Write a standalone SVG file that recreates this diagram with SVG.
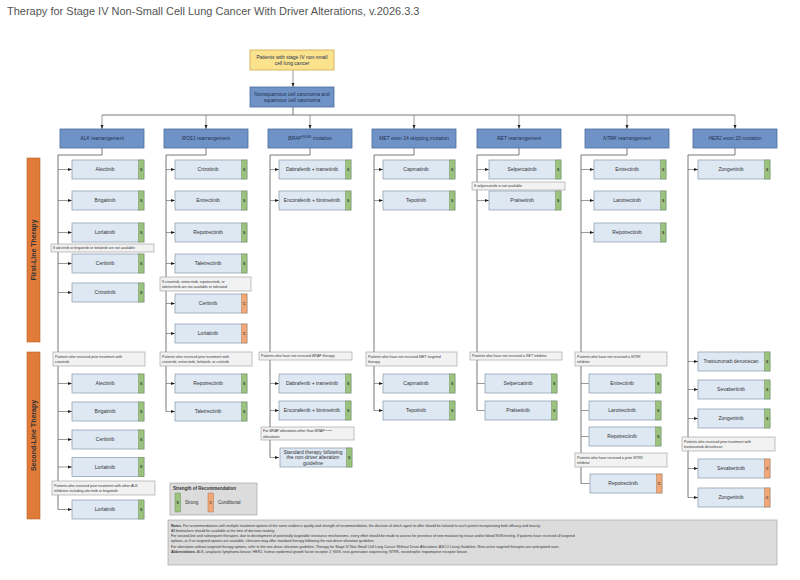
<svg xmlns="http://www.w3.org/2000/svg" width="800" height="580" viewBox="0 0 800 580">
<style>
text{font-family:"Liberation Sans",Arial,sans-serif;}
.t{font-size:11px;fill:#555}
.hd{fill:#6f93c6;stroke:#4d6d9c;stroke-width:0.8}
.hdt{font-size:5px;fill:#1f2f4f;text-anchor:middle}
.dr{fill:#dde8f3;stroke:#8797ab;stroke-width:0.7}
.s{fill:#9bc27f;stroke:#6f8f5a;stroke-width:0.5}
.c{fill:#f0a878;stroke:#b07850;stroke-width:0.5}
.dt{font-size:5px;fill:#333;text-anchor:middle}
.tg{font-size:3.5px;fill:#333;text-anchor:middle;font-weight:bold}
.nt{fill:#f2f2f2;stroke:#999;stroke-width:0.6}
.ntt{font-size:3.6px;fill:#333}
.ln{fill:none;stroke:#555;stroke-width:0.8}
.ar{fill:none;stroke:#555;stroke-width:0.6;marker-end:url(#a)}
.side{fill:#e07b39;stroke:#b8612a;stroke-width:0.6}
.sidet{font-size:7px;font-weight:bold;fill:#333;text-anchor:middle}
</style>
<defs><marker id="a" markerWidth="4" markerHeight="4" refX="4" refY="2" orient="auto" markerUnits="userSpaceOnUse"><path d="M0,0.5 L4,2 L0,3.5 z" fill="#222"/></marker>
<g id="dS"><rect class="dr" x="0" y="0" width="72" height="19"/><rect class="s" x="66.5" y="0" width="5.5" height="19"/><text class="tg" x="69.25" y="10.8">S</text></g>
<g id="dC"><rect class="dr" x="0" y="0" width="72" height="19"/><rect class="c" x="66.5" y="0" width="5.5" height="19"/><text class="tg" x="69.25" y="10.8">C</text></g>
</defs>
<rect width="800" height="580" fill="#fff"/>
<text class="t" x="7" y="15">Therapy for Stage IV Non-Small Cell Lung Cancer With Driver Alterations, v.2026.3.3</text>

<g id="connectors">
<path class="ar" d="M293,70 V87"/>
<path class="ln" d="M293,107 V115 M102,115 H735"/>
<path class="ar" d="M102,115 V129"/><path class="ar" d="M206,115 V129"/><path class="ar" d="M310,115 V129"/><path class="ar" d="M414,115 V129"/><path class="ar" d="M519,115 V129"/><path class="ar" d="M627,115 V129"/><path class="ar" d="M735,115 V129"/>
<path class="ln" d="M102,148 V155 H58 V509.5"/>
<path class="ln" d="M206,148 V155 H166 V411.5"/>
<path class="ln" d="M310,148 V155 H270 V457.5"/>
<path class="ln" d="M414,148 V155 H374 V410.5"/>
<path class="ln" d="M519,148 V155 H477 V410.5"/>
<path class="ln" d="M627,148 V155 H581 V483.5"/>
<path class="ln" d="M735,148 V155 H688 V497.5"/>
<g>
<path class="ar" d="M58,169.5 H72"/><path class="ar" d="M58,200.5 H72"/><path class="ar" d="M58,232.5 H72"/><path class="ar" d="M58,263.5 H72"/><path class="ar" d="M58,292.5 H72"/>
<path class="ar" d="M58,383.5 H72"/><path class="ar" d="M58,411.5 H72"/><path class="ar" d="M58,439.5 H72"/><path class="ar" d="M58,467 H72"/><path class="ar" d="M58,509.5 H72"/>
<path class="ar" d="M166,169.5 H175"/><path class="ar" d="M166,200.5 H175"/><path class="ar" d="M166,232.5 H175"/><path class="ar" d="M166,263.5 H175"/><path class="ar" d="M166,303.5 H175"/><path class="ar" d="M166,333.5 H175"/>
<path class="ar" d="M166,383.5 H175"/><path class="ar" d="M166,411.5 H175"/>
<path class="ar" d="M270,169.5 H279"/><path class="ar" d="M270,200.5 H279"/><path class="ar" d="M270,383.5 H279"/><path class="ar" d="M270,410.5 H279"/><path class="ar" d="M270,457.5 H279"/>
<path class="ar" d="M374,169.5 H383"/><path class="ar" d="M374,200.5 H383"/><path class="ar" d="M374,383.5 H383"/><path class="ar" d="M374,410.5 H383"/>
<path class="ar" d="M477,169.5 H489"/><path class="ar" d="M477,200.5 H489"/><path class="ar" d="M477,383.5 H489"/><path class="ar" d="M477,410.5 H489"/>
<path class="ar" d="M581,169.5 H594"/><path class="ar" d="M581,200.5 H594"/><path class="ar" d="M581,232.5 H594"/><path class="ar" d="M581,383.5 H594"/><path class="ar" d="M581,410.5 H594"/><path class="ar" d="M581,436.5 H594"/><path class="ar" d="M581,483.5 H594"/>
<path class="ar" d="M688,169.5 H698"/><path class="ar" d="M688,361.5 H698"/><path class="ar" d="M688,389.5 H698"/><path class="ar" d="M688,418.5 H698"/><path class="ar" d="M688,468.5 H698"/><path class="ar" d="M688,497.5 H698"/>
</g>
</g>

<g id="n-start"><rect x="250" y="50" width="84" height="20" fill="#fbe38d" stroke="#c9a84a" stroke-width="0.8"/><text class="hdt" x="292" y="58.5">Patients with stage IV non-small</text><text class="hdt" x="292" y="65">cell lung cancer</text></g>
<g id="n-histo"><rect class="hd" x="250" y="87" width="84" height="20"/><text class="hdt" x="292" y="95.5">Nonsquamous cell carcinoma and</text><text class="hdt" x="292" y="102">squamous cell carcinoma</text></g>

<g id="headers">
<g id="h-alk"><rect class="hd" x="60" y="129" width="84" height="19"/><text class="hdt" x="102" y="140.3"><tspan font-style="italic">ALK</tspan> rearrangement</text></g>
<g id="h-ros1"><rect class="hd" x="164" y="129" width="84" height="19"/><text class="hdt" x="206" y="140.3"><tspan font-style="italic">ROS1</tspan> rearrangement</text></g>
<g id="h-braf"><rect class="hd" x="268" y="129" width="84" height="19"/><text class="hdt" x="310" y="140.3"><tspan font-style="italic">BRAF</tspan><tspan font-size="3.3" dy="-2">V600E</tspan><tspan dy="2"> mutation</tspan></text></g>
<g id="h-met"><rect class="hd" x="372" y="129" width="84" height="19"/><text class="hdt" x="414" y="140.3"><tspan font-style="italic">MET</tspan> exon 14 skipping mutation</text></g>
<g id="h-ret"><rect class="hd" x="477" y="129" width="84" height="19"/><text class="hdt" x="519" y="140.3"><tspan font-style="italic">RET</tspan> rearrangement</text></g>
<g id="h-ntrk"><rect class="hd" x="585" y="129" width="84" height="19"/><text class="hdt" x="627" y="140.3"><tspan font-style="italic">NTRK</tspan> rearrangement</text></g>
<g id="h-her2"><rect class="hd" x="693" y="129" width="84" height="19"/><text class="hdt" x="735" y="140.3"><tspan font-style="italic">HER2</tspan> exon 20 mutation</text></g>
</g>

<g id="side">
<rect class="side" x="27" y="158" width="13" height="184"/><text class="sidet" transform="translate(35.5,250) rotate(-90)">First-Line Therapy</text>
<rect class="side" x="27" y="352" width="13" height="167"/><text class="sidet" transform="translate(35.5,435.5) rotate(-90)">Second-Line Therapy</text>
</g>

<g id="notes-cond">
<g><rect class="nt" x="51" y="244" width="103" height="8"/><text class="ntt" x="53" y="249.3">If alectinib or brigatinib or lorlatinib are not available</text></g>
<g><rect class="nt" x="160" y="277" width="91" height="14"/><text class="ntt" x="162" y="282.5">If crizotinib, entrectinib, repotrectinib, or</text><text class="ntt" x="162" y="287.5">taletrectinib are not available or tolerated</text></g>
<g><rect class="nt" x="472" y="182" width="93" height="8"/><text class="ntt" x="474" y="187.3">If selpercatinib is not available</text></g>
<g><rect class="nt" x="53" y="352" width="92" height="14"/><text class="ntt" x="55" y="357.5">Patients who received prior treatment with</text><text class="ntt" x="55" y="362.5">crizotinib</text></g>
<g><rect class="nt" x="52" y="481" width="103" height="14"/><text class="ntt" x="54" y="486.5">Patients who received prior treatment with other ALK</text><text class="ntt" x="54" y="491.5">inhibitors including alectinib or brigatinib</text></g>
<g><rect class="nt" x="160" y="352" width="92" height="14"/><text class="ntt" x="162" y="357.5">Patients who received prior treatment with</text><text class="ntt" x="162" y="362.5">crizotinib, entrectinib, lorlatinib, or ceritinib</text></g>
<g><rect class="nt" x="259" y="352" width="93" height="8"/><text class="ntt" x="261" y="357.3">Patients who have not received <tspan font-style="italic">BRAF</tspan> therapy</text></g>
<g><rect class="nt" x="261" y="427" width="93" height="13"/><text class="ntt" x="263" y="432"><tspan>For </tspan><tspan font-style="italic">BRAF</tspan> alterations other than <tspan font-style="italic">BRAF</tspan><tspan font-size="2.5" dy="-1.3">V600E</tspan></text><text class="ntt" x="263" y="437.5">alterations</text></g>
<g><rect class="nt" x="366" y="352" width="91" height="14"/><text class="ntt" x="368" y="357.5">Patients who have not received <tspan font-style="italic">MET</tspan> targeted</text><text class="ntt" x="368" y="362.5">therapy</text></g>
<g><rect class="nt" x="470" y="352" width="92" height="8"/><text class="ntt" x="472" y="357.3">Patients who have not received a <tspan font-style="italic">RET</tspan> inhibitor</text></g>
<g><rect class="nt" x="575" y="352" width="92" height="14"/><text class="ntt" x="577" y="357.5">Patients who have not received a <tspan font-style="italic">NTRK</tspan></text><text class="ntt" x="577" y="362.5">inhibitor</text></g>
<g><rect class="nt" x="575" y="453" width="92" height="14"/><text class="ntt" x="577" y="458.5">Patients who have received a prior <tspan font-style="italic">NTRK</tspan></text><text class="ntt" x="577" y="463.5">inhibitor</text></g>
<g><rect class="nt" x="682" y="437" width="93" height="14"/><text class="ntt" x="684" y="442.5">Patients who received prior treatment with</text><text class="ntt" x="684" y="447.5">trastuzumab deruxtecan</text></g>
</g>

<g id="drugs">
<g><use href="#dS" x="72" y="160"/><text class="dt" x="105" y="171.3">Alectinib</text></g>
<g><use href="#dS" x="72" y="191"/><text class="dt" x="105" y="202.3">Brigatinib</text></g>
<g><use href="#dS" x="72" y="223"/><text class="dt" x="105" y="234.3">Lorlatinib</text></g>
<g><use href="#dS" x="72" y="254"/><text class="dt" x="105" y="265.3">Ceritinib</text></g>
<g><use href="#dS" x="72" y="283"/><text class="dt" x="105" y="294.3">Crizotinib</text></g>
<g><use href="#dS" x="72" y="374"/><text class="dt" x="105" y="385.3">Alectinib</text></g>
<g><use href="#dS" x="72" y="402"/><text class="dt" x="105" y="413.3">Brigatinib</text></g>
<g><use href="#dS" x="72" y="430"/><text class="dt" x="105" y="441.3">Ceritinib</text></g>
<g><use href="#dS" x="72" y="457.5"/><text class="dt" x="105" y="468.8">Lorlatinib</text></g>
<g><use href="#dS" x="72" y="500"/><text class="dt" x="105" y="511.3">Lorlatinib</text></g>

<g><use href="#dS" x="175" y="160"/><text class="dt" x="208" y="171.3">Crizotinib</text></g>
<g><use href="#dS" x="175" y="191"/><text class="dt" x="208" y="202.3">Entrectinib</text></g>
<g><use href="#dS" x="175" y="223"/><text class="dt" x="208" y="234.3">Repotrectinib</text></g>
<g><use href="#dS" x="175" y="254"/><text class="dt" x="208" y="265.3">Taletrectinib</text></g>
<g><use href="#dC" x="175" y="294"/><text class="dt" x="208" y="305.3">Ceritinib</text></g>
<g><use href="#dC" x="175" y="324"/><text class="dt" x="208" y="335.3">Lorlatinib</text></g>
<g><use href="#dS" x="175" y="374"/><text class="dt" x="208" y="385.3">Repotrectinib</text></g>
<g><use href="#dS" x="175" y="402"/><text class="dt" x="208" y="413.3">Taletrectinib</text></g>

<g><use href="#dS" x="279" y="160"/><text class="dt" x="312" y="171.3">Dabrafenib + trametinib</text></g>
<g><use href="#dS" x="279" y="191"/><text class="dt" x="312" y="202.3">Encorafenib + binimetinib</text></g>
<g><use href="#dS" x="279" y="374"/><text class="dt" x="312" y="385.3">Dabrafenib + trametinib</text></g>
<g><use href="#dS" x="279" y="401"/><text class="dt" x="312" y="412.3">Encorafenib + binimetinib</text></g>
<g><use href="#dS" x="280" y="448"/><text class="dt" x="313" y="453.5">Standard therapy following</text><text class="dt" x="313" y="459.3">the non-driver alteration</text><text class="dt" x="313" y="465.1">guideline</text></g>

<g><use href="#dS" x="383" y="160"/><text class="dt" x="416" y="171.3">Capmatinib</text></g>
<g><use href="#dS" x="383" y="191"/><text class="dt" x="416" y="202.3">Tepotinib</text></g>
<g><use href="#dS" x="383" y="374"/><text class="dt" x="416" y="385.3">Capmatinib</text></g>
<g><use href="#dS" x="383" y="401"/><text class="dt" x="416" y="412.3">Tepotinib</text></g>

<g><use href="#dS" x="489" y="160"/><text class="dt" x="522" y="171.3">Selpercatinib</text></g>
<g><use href="#dS" x="489" y="191"/><text class="dt" x="522" y="202.3">Pralsetinib</text></g>
<g><use href="#dS" x="485" y="374"/><text class="dt" x="518" y="385.3">Selpercatinib</text></g>
<g><use href="#dS" x="485" y="401"/><text class="dt" x="518" y="412.3">Pralsetinib</text></g>

<g><use href="#dS" x="594" y="160"/><text class="dt" x="627" y="171.3">Entrectinib</text></g>
<g><use href="#dS" x="594" y="191"/><text class="dt" x="627" y="202.3">Larotrectinib</text></g>
<g><use href="#dS" x="594" y="223"/><text class="dt" x="627" y="234.3">Repotrectinib</text></g>
<g><use href="#dS" x="589" y="374"/><text class="dt" x="622" y="385.3">Entrectinib</text></g>
<g><use href="#dS" x="589" y="401"/><text class="dt" x="622" y="412.3">Larotrectinib</text></g>
<g><use href="#dS" x="589" y="427"/><text class="dt" x="622" y="438.3">Repotrectinib</text></g>
<g><use href="#dC" x="590" y="474"/><text class="dt" x="623" y="485.3">Repotrectinib</text></g>

<g><use href="#dS" x="698" y="160"/><text class="dt" x="731" y="171.3">Zongertinib</text></g>
<g><use href="#dS" x="698" y="352"/><text class="dt" x="731" y="363.3">Trastuzumab deruxtecan</text></g>
<g><use href="#dS" x="698" y="380"/><text class="dt" x="731" y="391.3">Sevabertinib</text></g>
<g><use href="#dS" x="698" y="409"/><text class="dt" x="731" y="420.3">Zongertinib</text></g>
<g><use href="#dC" x="698" y="459"/><text class="dt" x="731" y="470.3">Sevabertinib</text></g>
<g><use href="#dC" x="698" y="488"/><text class="dt" x="731" y="499.3">Zongertinib</text></g>
</g>

<g id="legend">
<rect x="170" y="483" width="87" height="32" fill="#dcdcdc" stroke="#999" stroke-width="0.6"/>
<text x="173" y="490" font-size="4.5" font-weight="bold" fill="#333">Strength of Recommendation</text>
<rect class="s" x="175" y="493" width="5.5" height="19"/><text class="tg" x="177.75" y="503.8">S</text><text x="185" y="503.5" font-size="4.5" fill="#333">Strong</text>
<rect class="c" x="208" y="493" width="5.5" height="19"/><text class="tg" x="210.75" y="503.8">C</text><text x="218" y="503.5" font-size="4.5" fill="#333">Conditional</text>
</g>

<g id="notes">
<rect x="168" y="520" width="609" height="45" fill="#dcdcdc" stroke="#999" stroke-width="0.6"/>
<g class="ntt" font-size="3.8">
<text x="171" y="526.5" class="ntt"><tspan font-weight="bold">Notes.</tspan> For recommendations with multiple treatment options of the same evidence quality and strength of recommendation, the decision of which agent to offer should be tailored to each patient incorporating both efficacy and toxicity.</text>
<text x="171" y="531.8" class="ntt">All biomarkers should be available at the time of decision-making.</text>
<text x="171" y="537.1" class="ntt">For second-line and subsequent therapies, due to development of potentially targetable resistance mechanisms, every effort should be made to assess for presence of new mutation by tissue and/or blood NGS testing. If patients have received all targeted</text>
<text x="171" y="542.4" class="ntt">options, or if no targeted options are available, clinicians may offer standard therapy following the non-driver alteration guideline.</text>
<text x="171" y="547.7" class="ntt">For alterations without targeted therapy options, refer to the non-driver alteration guideline, Therapy for Stage IV Non-Small Cell Lung Cancer Without Driver Alterations: ASCO Living Guideline. New active targeted therapies are anticipated soon.</text>
<text x="171" y="553" class="ntt"><tspan font-weight="bold">Abbreviations.</tspan> ALK, anaplastic lymphoma kinase; HER2, human epidermal growth factor receptor 2; NGS, next-generation sequencing; NTRK, neurotrophic tropomyosin receptor kinase</text>
</g>
</g>
</svg>
